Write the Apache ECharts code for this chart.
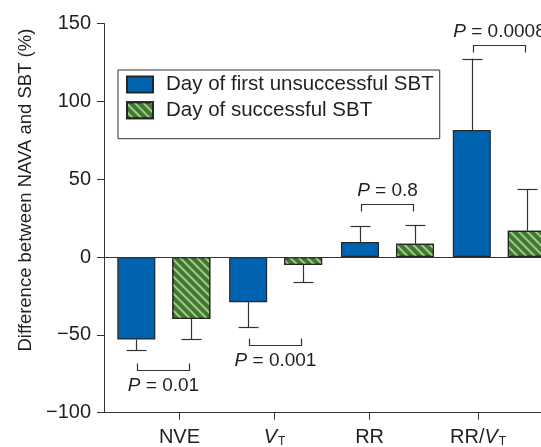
<!DOCTYPE html>
<html>
<head>
<meta charset="utf-8">
<style>html,body{margin:0;padding:0;background:#fff}#c{width:541px;height:447px}</style>
<script src="https://cdn.jsdelivr.net/npm/echarts@6/dist/echarts.min.js"></script>
</head>
<body>
<div id="c"></div>
<script>
// ---- data ----
var categories = ['NVE', 'VT', 'RR', 'RR/VT'];
var groupPos = [1, 2, 3, 4];                 // x position of each bar group
var tickPos = [1.14, 1.99, 2.84, 3.81];      // x position of category tick/label
var unsuccessful = [-53, -29, 9.6, 81.6];
var unsuccessfulErr = [-60, -45.2, 19.7, 127.4];
var successful = [-39.8, -5.1, 8.5, 16.9];
var successfulErr = [-52.7, -16.3, 20.6, 43.7];
var pLabels = ['0.01', '0.001', '0.8', '0.0008'];
var bracketY = [-72.4, -56.3, 34.2, 136.5];
var yTicks = [-100, -50, 0, 50, 100, 150];

// ---- style constants ----
var FONT = '"Liberation Sans", Arial, Helvetica, sans-serif';
var TXT = '#231f20';
var LINE = '#333333';
var BLUE = '#0063b0';
var GREEN = '#3f7b2d';
var BAR_W = 38, BAR_GAP = 17;
var HALF = (BAR_W + BAR_GAP) / 2;

var chart = echarts.init(document.getElementById('c'));

var catLabelText = {
  'NVE': 'NVE',
  'VT': '{i|V}{s|T}',
  'RR': 'RR',
  'RR/VT': 'RR/{i|V}{s|T}'
};

function barData(vals) {
  return vals.map(function (v, i) { return [groupPos[i], v]; });
}
function errData(vals, errs) {
  return vals.map(function (v, i) { return [groupPos[i], v, errs[i]]; });
}
function errRender(offset) {
  return function (params, api) {
    var c = api.coord([api.value(0), api.value(1)]);
    var e = api.coord([api.value(0), api.value(2)]);
    var x = Math.round(c[0] + offset) + 0.5;
    return {
      type: 'group',
      children: [
        { type: 'line', shape: { x1: x, y1: c[1], x2: x, y2: e[1] }, style: { stroke: LINE, lineWidth: 1.2 } },
        { type: 'line', shape: { x1: x - 10, y1: Math.round(e[1]) + 0.5, x2: x + 10, y2: Math.round(e[1]) + 0.5 }, style: { stroke: LINE, lineWidth: 1.2 } }
      ]
    };
  };
}

var bracketData = bracketY.map(function (y, i) { return [groupPos[i], y, i]; });

var option = {
  animation: false,
  textStyle: { fontFamily: FONT },
  grid: { left: 104, top: 23.5, height: 389.2, width: 462.4, containLabel: false, outerBoundsMode: 'none' },
  legend: {
    orient: 'vertical',
    left: 118, top: 70,
    icon: 'rect',
    itemWidth: 26, itemHeight: 16, itemGap: 4.7,
    padding: [4, 6, 18, 8],
    borderColor: LINE, borderWidth: 1,
    textStyle: { fontSize: 20.5, color: TXT, fontFamily: FONT, padding: [0, 0, 0, 8] },
    data: ['Day of first unsuccessful SBT', 'Day of successful SBT']
  },
  xAxis: {
    type: 'value',
    min: 0.465, max: 4.6,
    splitLine: { show: false },
    axisLine: { show: true, onZero: false, lineStyle: { color: LINE, width: 1 } },
    axisTick: { show: true, length: 7, customValues: tickPos, lineStyle: { color: LINE } },
    axisLabel: {
      customValues: tickPos,
      margin: 15,
      fontSize: 20, color: TXT, fontFamily: FONT,
      formatter: function (v) {
        var best = 0, d = 1e9;
        for (var i = 0; i < tickPos.length; i++) {
          if (Math.abs(tickPos[i] - v) < d) { d = Math.abs(tickPos[i] - v); best = i; }
        }
        return catLabelText[categories[best]];
      },
      rich: {
        i: { fontSize: 20, fontStyle: 'italic', color: TXT, fontFamily: FONT },
        s: { fontSize: 12, color: TXT, fontFamily: FONT, verticalAlign: 'bottom', lineHeight: 12, padding: [8, 0, 0, 1] }
      }
    }
  },
  yAxis: {
    type: 'value',
    min: yTicks[0], max: yTicks[yTicks.length - 1], interval: 50,
    splitLine: { show: false },
    axisLine: { show: true, lineStyle: { color: LINE, width: 1 } },
    axisTick: { show: true, length: 7, lineStyle: { color: LINE } },
    axisLabel: {
      margin: 13, fontSize: 20, color: TXT, fontFamily: FONT,
      formatter: function (v) { return String(v).replace('-', '\u2212'); }
    },
    name: 'Difference between NAVA and SBT (%)',
    nameLocation: 'middle',
    nameGap: 69,
    nameTextStyle: { fontSize: 18.5, color: TXT, fontFamily: FONT, padding: [0, 0, 0, 56] }
  },
  series: [
    {
      name: 'Day of first unsuccessful SBT',
      type: 'bar',
      barWidth: BAR_W,
      barGap: (BAR_GAP / BAR_W * 100) + '%',
      data: barData(unsuccessful),
      itemStyle: { color: BLUE, borderColor: '#262626', borderWidth: 1.2 },
      markLine: {
        silent: true, symbol: 'none', label: { show: false },
        lineStyle: { color: LINE, width: 1, type: 'solid' },
        data: [{ yAxis: 0 }]
      },
      z: 3
    },
    {
      name: 'Day of successful SBT',
      type: 'bar',
      barWidth: BAR_W,
      barGap: (BAR_GAP / BAR_W * 100) + '%',
      data: barData(successful),
      itemStyle: {
        color: GREEN, borderColor: '#262626', borderWidth: 1.2,
        decal: {
          symbol: 'rect', symbolSize: 1,
          color: 'rgba(185,210,165,0.85)',
          dashArrayX: [1, 0], dashArrayY: [2, 3.3],
          rotation: Math.PI / 4
        }
      },
      z: 3
    },
    {
      type: 'custom', name: 'errA', silent: true,
      data: errData(unsuccessful, unsuccessfulErr),
      encode: { x: 0, y: [1, 2] },
      renderItem: errRender(-HALF), z: 2
    },
    {
      type: 'custom', name: 'errB', silent: true,
      data: errData(successful, successfulErr),
      encode: { x: 0, y: [1, 2] },
      renderItem: errRender(HALF), z: 2
    },
    {
      type: 'custom', name: 'brackets', silent: true,
      data: bracketData,
      encode: { x: 0, y: 1 },
      renderItem: function (params, api) {
        var idx = api.value(2);
        var c = api.coord([api.value(0), api.value(1)]);
        var below = api.value(1) < 0;
        var dir = below ? -1 : 1;      // ends point toward bars
        var y = Math.round(c[1]) + 0.5;
        var x1 = Math.round(c[0] - HALF + 1) + 0.5, x2 = Math.round(c[0] + HALF - 2) + 0.5;
        var yEnd = y + dir * 7;
        return {
          type: 'group',
          children: [
            { type: 'polyline', shape: { points: [[x1, yEnd], [x1, y], [x2, y], [x2, yEnd]] }, style: { stroke: LINE, lineWidth: 1.2, fill: null } },
            {
              type: 'text',
              x: (x1 + x2) / 2, y: below ? y + 15 : y - 14,
              style: {
                text: '{i|P} = ' + pLabels[idx],
                align: 'center', verticalAlign: 'middle',
                fontSize: 19, fill: TXT, fontFamily: FONT,
                rich: { i: { fontStyle: 'italic', fontSize: 19, fill: TXT, fontFamily: FONT } }
              }
            }
          ]
        };
      },
      z: 2
    }
  ]
};
chart.setOption(option);
</script>
</body>
</html>
